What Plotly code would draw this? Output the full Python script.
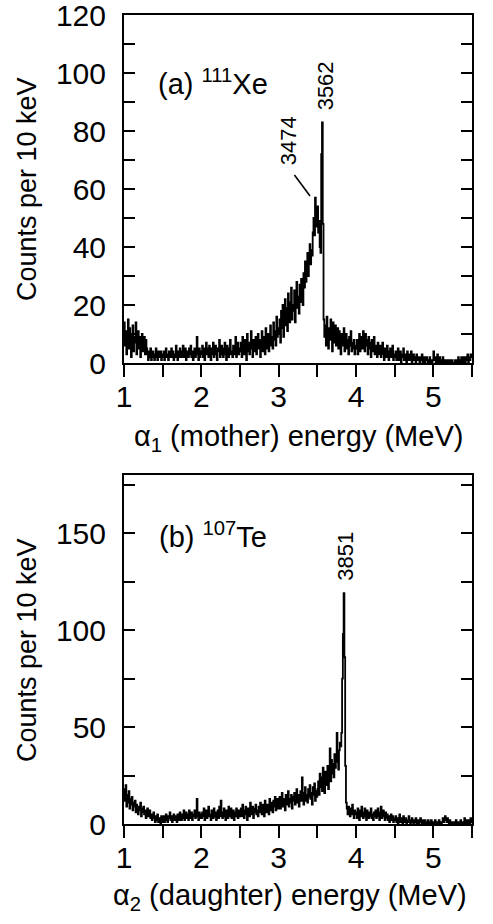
import plotly.graph_objects as go

# ---------------- data: counts per 10 keV bin (bin start energies 1.00 ... 5.49 MeV)
E_START = 1.00
BIN_MEV = 0.01

# Panel (a) 111Xe, alpha1 (mother)
a_100_149 = [14, 6, 11, 3, 9, 15, 5, 12, 8, 2, 10, 13, 4, 9, 7, 14, 3, 8, 11, 5, 9, 2, 7, 10, 4,
             6, 9, 3, 8, 5, 3, 1, 4, 2, 5, 1, 3, 4, 2, 1, 3, 5, 2, 1, 4, 3, 2, 4, 1, 3]
a_150_199 = [2, 4, 1, 3, 5, 2, 3, 1, 4, 2, 3, 5, 2, 4, 1, 3, 2, 6, 3, 1, 4, 2, 5, 3, 2,
             4, 6, 2, 3, 5, 1, 4, 3, 2, 5, 3, 6, 2, 4, 1, 3, 5, 2, 4, 9, 3, 1, 5, 2, 4]
a_200_249 = [3, 6, 2, 5, 1, 4, 7, 3, 5, 2, 6, 4, 1, 5, 3, 7, 2, 4, 6, 3, 1, 5, 4, 8, 2,
             3, 6, 4, 2, 5, 7, 3, 1, 6, 4, 2, 5, 8, 3, 4, 2, 6, 3, 5, 9, 2, 4, 7, 3, 5]
a_250_299 = [4, 7, 2, 9, 5, 3, 8, 6, 1, 10, 4, 7, 3, 6, 11, 5, 2, 8, 4, 7, 9, 3, 6, 10, 5,
             8, 2, 7, 11, 4, 6, 9, 3, 12, 7, 5, 10, 4, 8, 13, 6, 9, 5, 14, 8, 11, 6, 16, 9, 12]
a_300_349 = [10, 15, 7, 18, 12, 20, 9, 16, 22, 13, 19, 11, 24, 17, 14, 21, 26, 15, 20, 18, 25, 14, 22, 28, 19,
             23, 17, 27, 21, 29, 24, 20, 31, 26, 35, 28, 33, 38, 30, 36, 41, 34, 39, 37, 45, 50, 44, 57, 52, 47]
a_350_399 = [54, 45, 49, 40, 38, 72, 83, 48, 15, 9, 13, 6, 16, 10, 5, 12, 8, 15, 11, 4, 14, 7, 10, 13, 6,
             9, 12, 5, 11, 8, 3, 10, 6, 9, 12, 4, 7, 10, 5, 8, 3, 9, 6, 11, 4, 7, 5, 8, 3, 6]
a_400_449 = [5, 8, 3, 7, 10, 4, 6, 9, 5, 11, 7, 4, 10, 6, 8, 3, 9, 5, 7, 2, 8, 6, 4, 9, 3,
             6, 5, 2, 7, 4, 3, 6, 2, 5, 7, 3, 1, 5, 4, 2, 6, 3, 1, 4, 5, 2, 3, 6, 1, 3]
a_450_499 = [2, 4, 1, 3, 5, 1, 2, 4, 0, 3, 2, 5, 1, 3, 2, 0, 4, 1, 2, 3, 1, 4, 0, 2, 3,
             1, 2, 0, 3, 1, 2, 1, 0, 2, 1, 3, 0, 1, 2, 0, 1, 2, 1, 0, 1, 2, 0, 1, 0, 1]
a_500_549 = [4, 1, 2, 0, 1, 3, 0, 1, 2, 0, 1, 0, 2, 1, 0, 0, 1, 0, 1, 0, 0, 1, 0, 0, 1,
             0, 0, 0, 1, 0, 0, 1, 2, 0, 1, 0, 2, 1, 0, 2, 1, 0, 2, 1, 3, 0, 2, 1, 3, 2]

# Panel (b) 107Te, alpha2 (daughter)
b_100_149 = [18, 12, 20, 9, 15, 11, 17, 8, 13, 10, 14, 7, 11, 9, 12, 6, 10, 8, 5, 9, 7, 11, 4, 8, 6,
             9, 5, 7, 3, 6, 8, 4, 5, 7, 3, 5, 2, 4, 6, 3, 1, 4, 2, 5, 1, 3, 2, 0, 4, 1]
b_150_199 = [2, 4, 1, 3, 5, 2, 1, 4, 3, 6, 2, 4, 1, 3, 5, 2, 4, 3, 1, 5, 3, 2, 6, 4, 2,
             5, 3, 7, 2, 4, 6, 3, 5, 2, 7, 4, 3, 6, 2, 5, 4, 7, 3, 5, 13, 4, 2, 6, 3, 5]
b_200_249 = [3, 6, 4, 8, 2, 5, 7, 3, 6, 9, 4, 5, 2, 7, 5, 3, 8, 4, 6, 2, 5, 7, 3, 9, 4,
             12, 6, 3, 5, 8, 4, 2, 7, 5, 3, 9, 6, 4, 8, 3, 5, 7, 2, 6, 4, 8, 5, 3, 7, 4]
b_250_299 = [5, 8, 4, 10, 6, 3, 7, 9, 5, 2, 8, 6, 4, 11, 7, 5, 9, 3, 6, 8, 10, 5, 7, 4, 9,
             6, 11, 8, 5, 10, 7, 4, 12, 8, 6, 10, 9, 5, 13, 7, 11, 8, 6, 12, 9, 14, 7, 10, 13, 8]
b_300_349 = [10, 14, 8, 12, 16, 9, 13, 11, 7, 15, 12, 10, 17, 9, 13, 11, 15, 8, 14, 12, 16, 10, 13, 18, 11,
             15, 9, 14, 17, 12, 24, 13, 10, 16, 19, 12, 15, 11, 18, 14, 20, 13, 16, 10, 19, 15, 21, 12, 17, 14]
b_350_399 = [18, 22, 15, 26, 19, 24, 17, 29, 21, 16, 27, 20, 25, 30, 18, 23, 39, 22, 33, 26,
             31, 24, 36, 29, 35, 47, 32, 28, 38, 42, 40, 47, 75, 98, 119, 86, 30, 11, 8, 5,
             9, 6, 4, 8, 5, 10, 6, 3, 7, 5]
b_400_449 = [6, 3, 8, 5, 2, 7, 4, 9, 5, 3, 6, 8, 4, 2, 7, 5, 3, 6, 4, 8, 3, 5, 2, 6, 4,
             7, 3, 5, 8, 4, 2, 6, 9, 3, 5, 7, 4, 2, 6, 3, 5, 2, 4, 1, 3, 5, 2, 4, 1, 3]
b_450_499 = [2, 4, 1, 3, 0, 2, 5, 1, 3, 2, 0, 4, 2, 1, 3, 0, 2, 1, 4, 2, 0, 1, 3, 1, 0,
             2, 1, 3, 0, 1, 2, 0, 1, 3, 1, 0, 2, 1, 0, 2, 1, 0, 1, 2, 0, 1, 0, 2, 1, 0]
b_500_549 = [1, 0, 2, 0, 1, 0, 1, 2, 0, 1, 0, 1, 3, 1, 2, 4, 2, 1, 3, 1, 0, 2, 1, 0, 1,
             0, 0, 1, 0, 2, 0, 1, 0, 0, 1, 2, 0, 1, 0, 1, 3, 0, 1, 2, 0, 1, 2, 0, 3, 1]

x_ticks = [1, 2, 3, 4, 5]
peak_labels_a = ["3474", "3562"]
peak_labels_b = ["3851"]

counts_a = (a_100_149 + a_150_199 + a_200_249 + a_250_299 + a_300_349 +
            a_350_399 + a_400_449 + a_450_499 + a_500_549)
counts_b = (b_100_149 + b_150_199 + b_200_249 + b_250_299 + b_300_349 +
            b_350_399 + b_400_449 + b_450_499 + b_500_549)


def step_xy(counts):
    xs = [round(E_START + BIN_MEV * i, 2) for i in range(len(counts))]
    xs.append(round(E_START + BIN_MEV * len(counts), 2))
    ys = list(counts) + [counts[-1]]
    return xs, ys


FONT = "Liberation Sans, Arial, sans-serif"
W, H = 493, 924
TICK_FS = 30
TITLE_FS = 29


def px(p):
    return p / W


def py(p):
    return 1 - p / H


fig = go.Figure()
xa, ya = step_xy(counts_a)
xb, yb = step_xy(counts_b)
fig.add_trace(go.Scatter(x=xa, y=ya, mode="lines", line=dict(color="black", width=1.8, shape="hv"),
                         xaxis="x", yaxis="y", showlegend=False, hoverinfo="skip"))
fig.add_trace(go.Scatter(x=xb, y=yb, mode="lines", line=dict(color="black", width=1.8, shape="hv"),
                         xaxis="x2", yaxis="y2", showlegend=False, hoverinfo="skip"))

xdom = [px(124), px(472)]
ydom_a = [py(363), py(15)]
ydom_b = [py(824), py(475)]


def xaxis_cfg(anchor):
    return dict(domain=xdom, anchor=anchor, range=[1, 5.5], tickvals=x_ticks,
                automargin=False, ticklabeloverflow="allow",
                showline=True, linecolor="black", linewidth=2, mirror=True,
                ticks="outside", ticklen=12, tickwidth=2, tickcolor="black",
                minor=dict(tickvals=[1.5, 2.5, 3.5, 4.5, 5.5], ticks="outside", ticklen=12,
                           tickwidth=2, tickcolor="black"),
                ticklabelstandoff=-6,
                showgrid=False, zeroline=False,
                tickfont=dict(family=FONT, size=TICK_FS, color="black"))


def yaxis_cfg(anchor, dom, rng, dtick):
    return dict(domain=dom, anchor=anchor, range=rng, dtick=dtick, tick0=0,
                automargin=False, ticklabeloverflow="allow",
                showline=True, linecolor="black", linewidth=2, mirror="ticks",
                ticks="inside", ticklen=11, tickwidth=2, tickcolor="black",
                minor=dict(dtick=dtick / 2, tick0=0, ticks="inside", ticklen=11,
                           tickwidth=2, tickcolor="black"),
                ticklabelstandoff=10,
                showgrid=False, zeroline=False,
                tickfont=dict(family=FONT, size=TICK_FS, color="black"))


fig.update_layout(
    template="none",
    width=W, height=H, autosize=False,
    margin=dict(l=0, r=0, t=0, b=0),
    paper_bgcolor="white", plot_bgcolor="white",
    xaxis=xaxis_cfg("y"),
    yaxis=yaxis_cfg("x", ydom_a, [0, 120], 20),
    xaxis2=xaxis_cfg("y2"),
    yaxis2=yaxis_cfg("x2", ydom_b, [0, 180], 50),
    font=dict(family=FONT, color="black"),
    showlegend=False,
    hovermode=False,
)

ann = []
# axis titles
ann.append(dict(text="Counts per 10 keV", xref="paper", yref="paper", x=px(27),
                y=py(189), textangle=-90, showarrow=False,
                font=dict(size=27, family=FONT), xanchor="center", yanchor="middle"))
ann.append(dict(text="Counts per 10 keV", xref="paper", yref="paper", x=px(27),
                y=py(650), textangle=-90, showarrow=False,
                font=dict(size=27, family=FONT), xanchor="center", yanchor="middle"))
ann.append(dict(text="α<sub>1</sub> (mother) energy (MeV)", xref="paper", yref="paper",
                x=px(298), y=py(418), showarrow=False,
                font=dict(size=TITLE_FS, family=FONT), xanchor="center", yanchor="top"))
ann.append(dict(text="α<sub>2</sub> (daughter) energy (MeV)", xref="paper", yref="paper",
                x=px(290), y=py(877), showarrow=False,
                font=dict(size=TITLE_FS, family=FONT), xanchor="center", yanchor="top"))
# panel labels
ann.append(dict(text="(a) <sup>111</sup>Xe", xref="x", yref="y", x=1.42, y=97,
                showarrow=False, xanchor="left", yanchor="middle",
                font=dict(size=29, family=FONT)))
ann.append(dict(text="(b) <sup>107</sup>Te", xref="x2", yref="y2", x=1.43, y=149,
                showarrow=False, xanchor="left", yanchor="middle",
                font=dict(size=29, family=FONT)))
# peak labels
ann.append(dict(text=peak_labels_a[1], xref="x", yref="y", x=3.603, y=95.5, textangle=-90,
                showarrow=False, xanchor="center", yanchor="middle",
                font=dict(size=22, family=FONT)))
ann.append(dict(text=peak_labels_a[0], xref="x", yref="y", x=3.126, y=76.6, textangle=-90,
                showarrow=False, xanchor="center", yanchor="middle",
                font=dict(size=22, family=FONT)))
ann.append(dict(text=peak_labels_b[0], xref="x2", yref="y2", x=3.861, y=138, textangle=-90,
                showarrow=False, xanchor="center", yanchor="middle",
                font=dict(size=22, family=FONT)))
fig.update_layout(annotations=ann)

# leader line for 3474
fig.add_shape(type="line", xref="x", yref="y", x0=3.204, y0=64.8, x1=3.406, y1=57.6,
              line=dict(color="black", width=1.6))

# remove the default 8 px page margin so the figure fills the window exactly; hide the modebar
fig.write_html("out.html", config={"displayModeBar": False},
               post_script="document.body.style.margin='0px';")
